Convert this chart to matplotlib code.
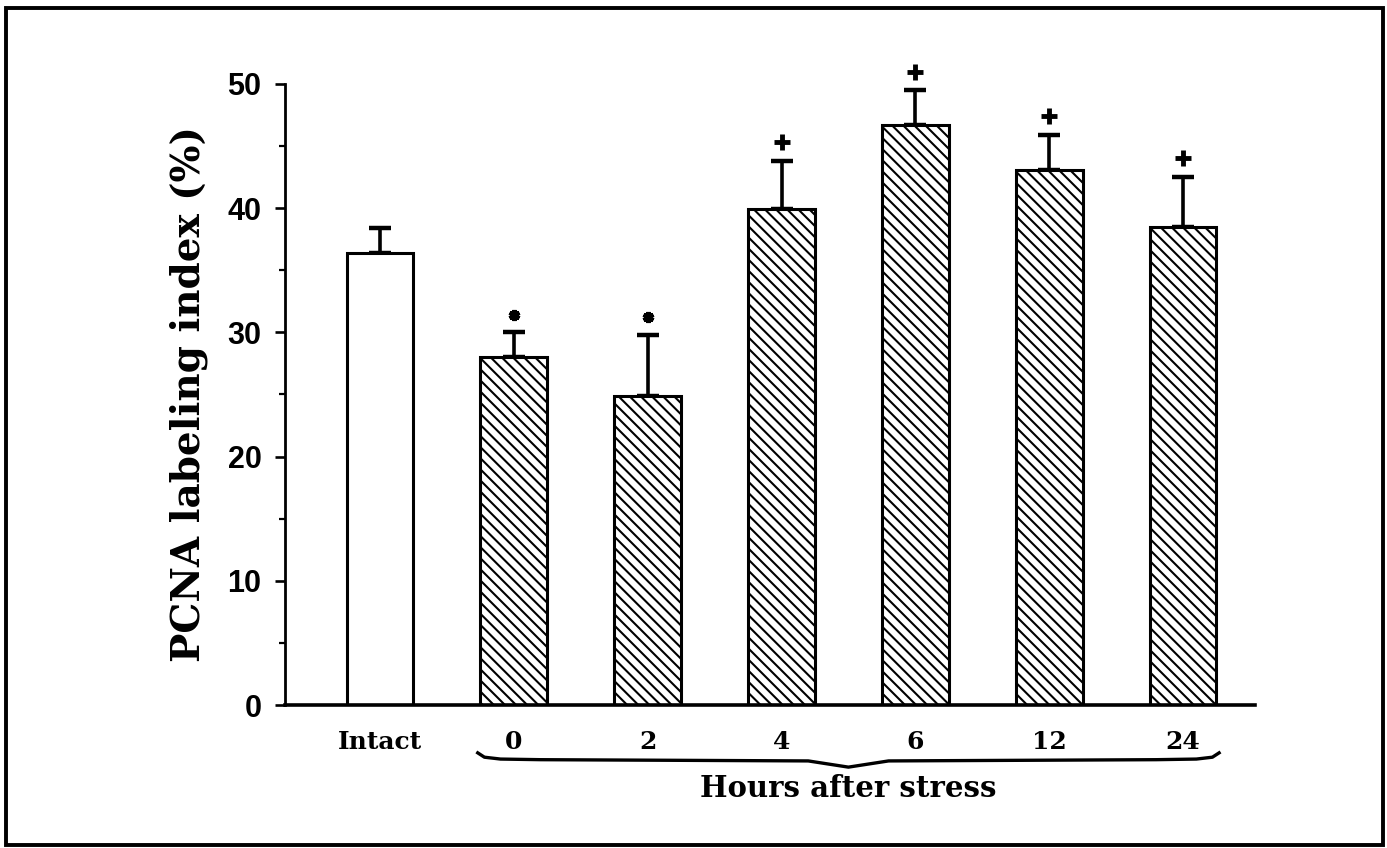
import matplotlib
matplotlib.use("Agg")
import matplotlib.pyplot as plt
from matplotlib.patches import Rectangle

# Data
groups = ["Intact", "0", "2", "4", "6", "12", "24"]
means = [36.4, 28.0, 24.9, 39.9, 46.7, 43.1, 38.5]
sems = [2.0, 2.0, 4.9, 3.9, 2.8, 2.8, 4.0]
marks = ["", "*", "*", "+", "+", "+", "+"]

plt.rcParams["hatch.linewidth"] = 1.5

fig = plt.figure(figsize=(13.87, 8.48), dpi=100)
ax = fig.add_axes([0.2055, 0.1686, 0.6995, 0.7324])

x = list(range(len(groups)))
for i in x:
    hatch = None if i == 0 else "\\\\\\"
    ax.bar(i, means[i], width=0.5, color="white", edgecolor="black",
           linewidth=2.2, hatch=hatch, zorder=2)
    ax.errorbar(i, means[i], yerr=[[0], [sems[i]]], fmt="none", ecolor="black",
                elinewidth=2.6, capsize=8, capthick=3.2, zorder=1)
    top = means[i] + sems[i]
    if marks[i] == "*":
        ax.plot(i, top + 1.4, marker=(6, 2, 0), color="black", markersize=8,
                markeredgewidth=3, clip_on=False)
    elif marks[i] == "+":
        ax.plot(i, top + 1.5, marker="+", color="black", markersize=11,
                markeredgewidth=3.5, clip_on=False)

ax.set_xlim(-0.71, 6.54)
ax.set_ylim(0, 50)
ax.set_yticks([0, 10, 20, 30, 40, 50])
ax.set_yticks([5, 15, 25, 35, 45], minor=True)
ax.set_yticklabels(["0", "10", "20", "30", "40", "50"],
                   fontsize=22, fontweight="bold", family="Liberation Sans")
ax.tick_params(axis="y", which="major", length=7, width=1.9, pad=10)
ax.tick_params(axis="y", which="minor", length=4, width=1.6)
ax.set_xticks(x)
ax.set_xticklabels(groups, fontsize=18, fontweight="bold", family="DejaVu Serif")
ax.tick_params(axis="x", length=0, pad=18)

for side in ["top", "right"]:
    ax.spines[side].set_visible(False)
ax.spines["left"].set_linewidth(2.0)
ax.spines["bottom"].set_linewidth(2.6)

ax.set_ylabel("PCNA labeling index (%)", fontsize=28, fontweight="bold",
              family="DejaVu Serif", labelpad=14)

# brace under the stress groups
bx = [0.73, 0.78, 0.9, 1.2, 3.2, 3.5, 3.8, 5.8, 6.1, 6.22, 6.27]
by = [-3.85, -4.2, -4.35, -4.4, -4.5, -5.0, -4.5, -4.4, -4.35, -4.2, -3.85]
ax.plot(bx, by, color="black", linewidth=2.4, clip_on=False)
ax.text(3.5, -6.75, "Hours after stress", ha="center", va="center",
        fontsize=21, fontweight="bold", family="DejaVu Serif")

# scanned frame around the figure
fig.patches.append(Rectangle((0.004, 0.004), 0.993, 0.986, transform=fig.transFigure,
                             fill=False, edgecolor="black", linewidth=2.8))

fig.savefig("out.png", dpi=100)
